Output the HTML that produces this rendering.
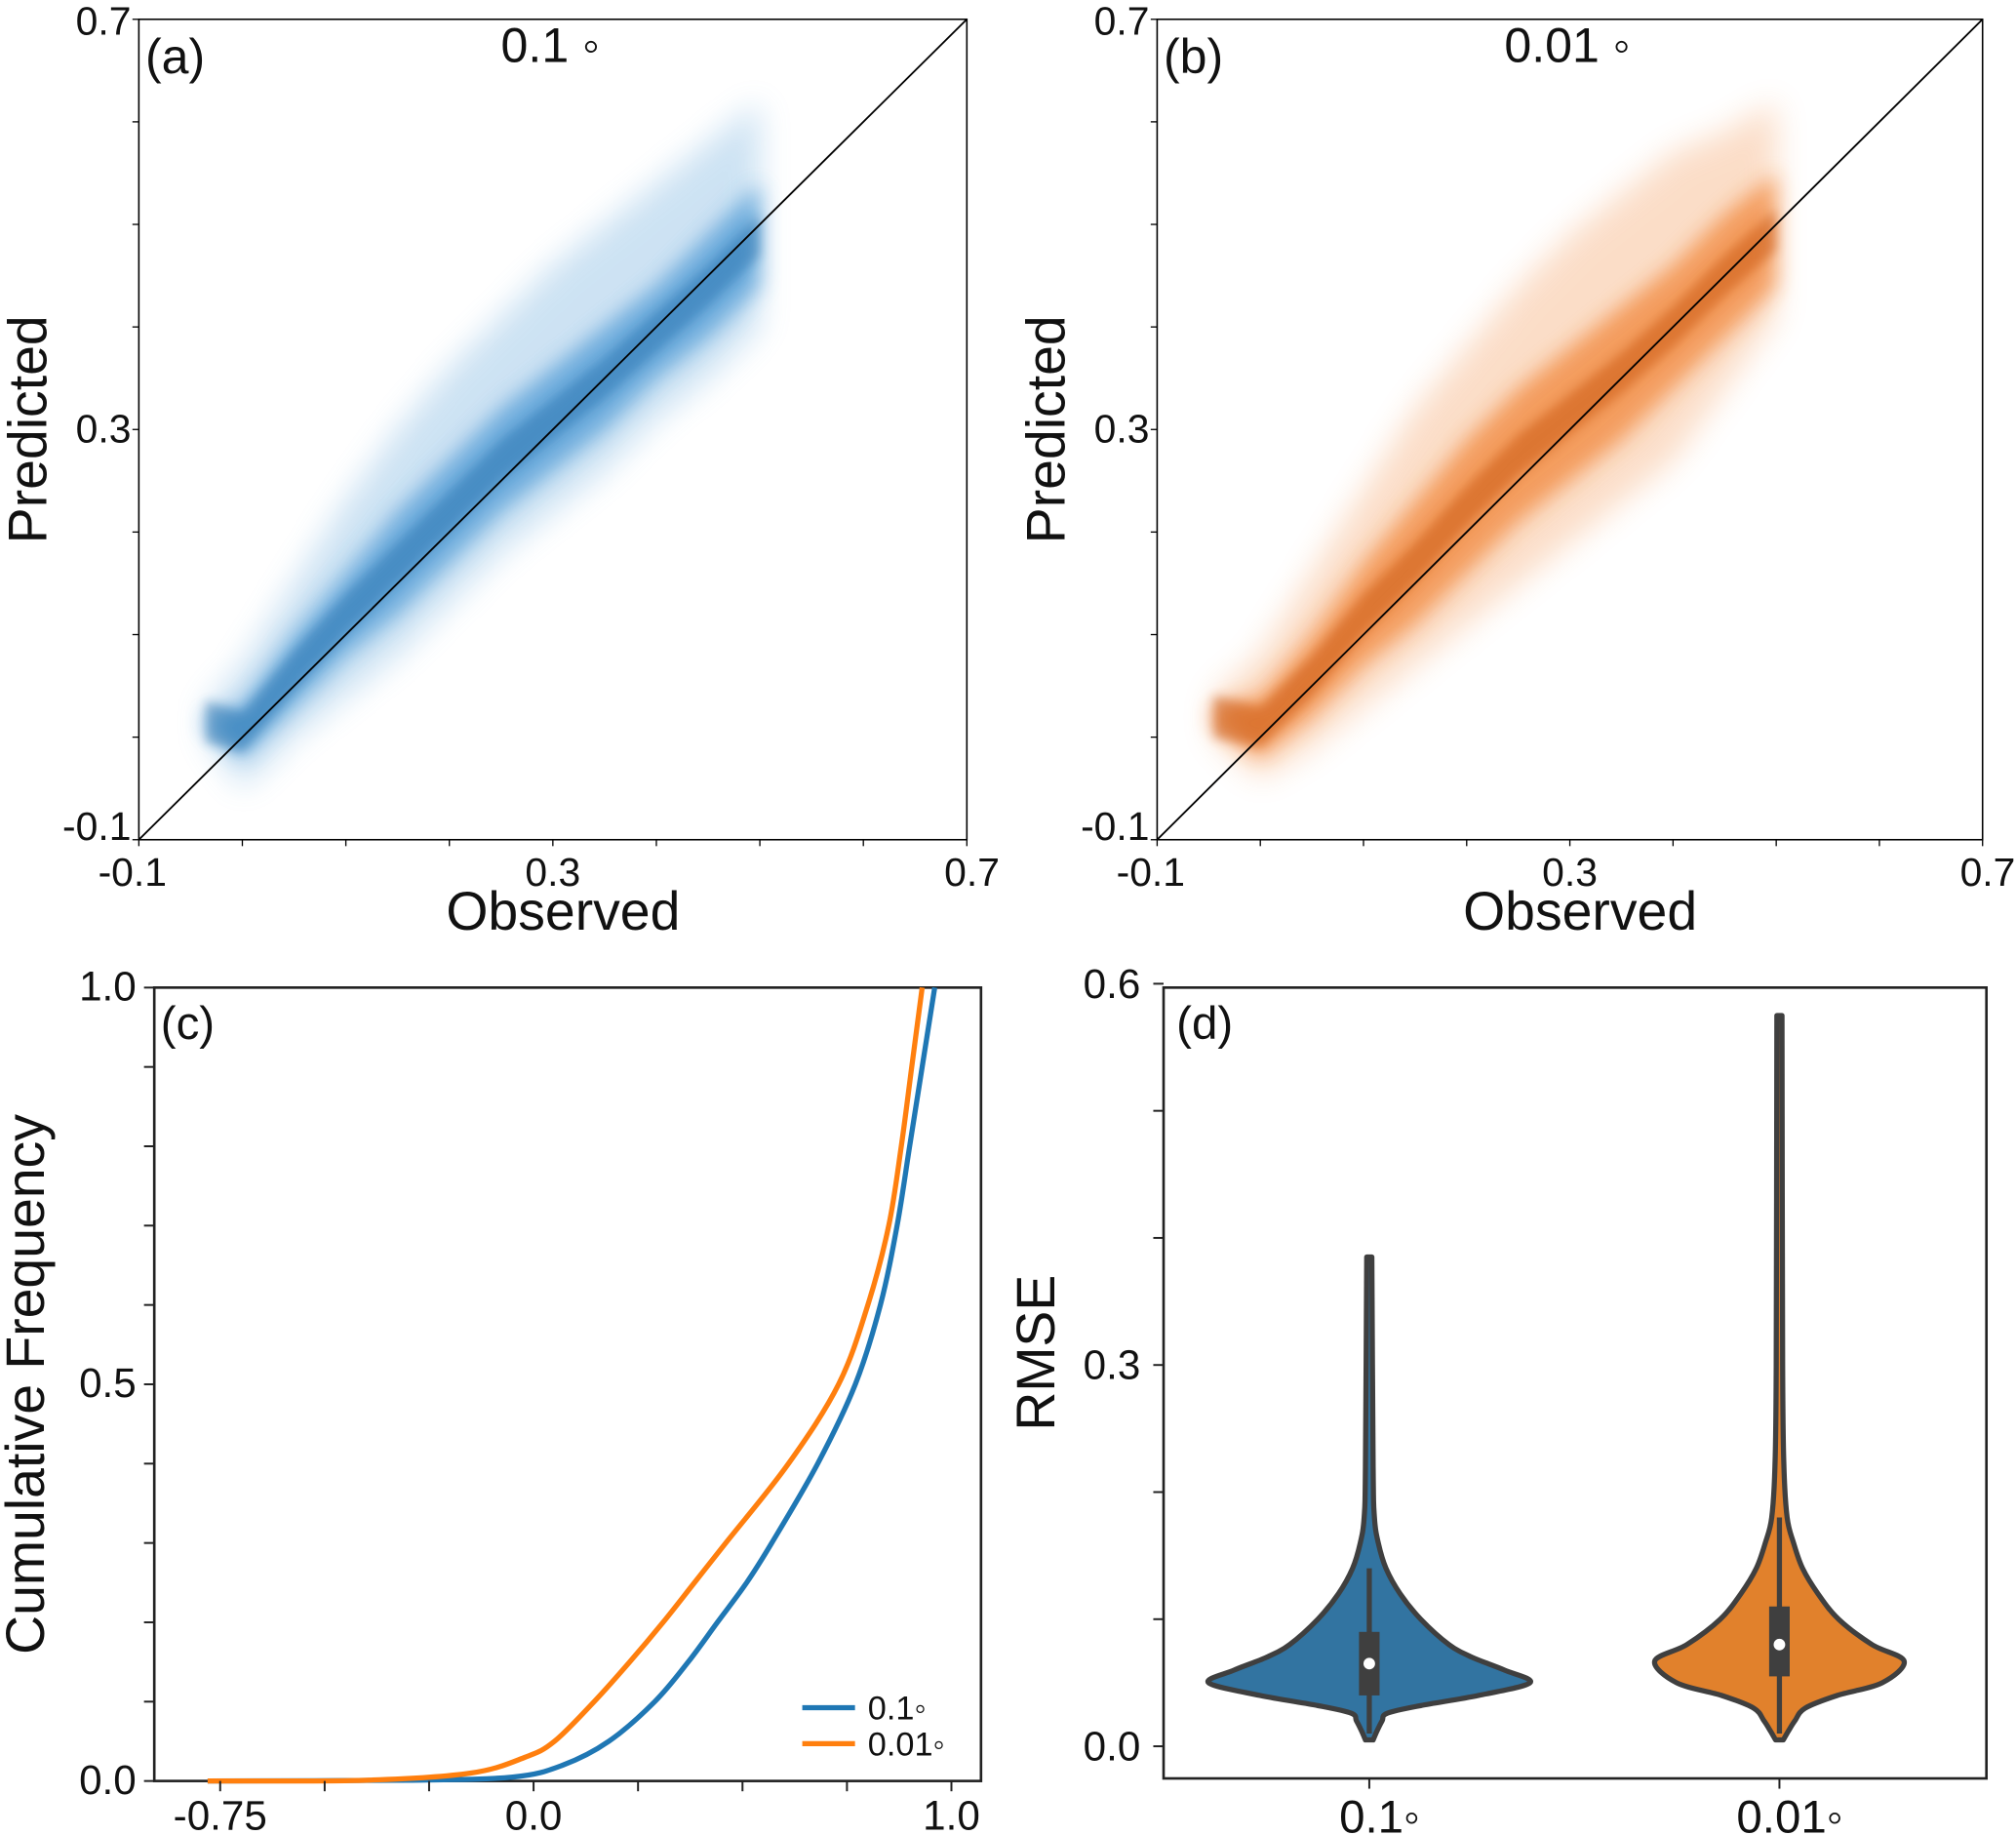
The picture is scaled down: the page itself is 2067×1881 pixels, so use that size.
<!DOCTYPE html>
<html><head><meta charset="utf-8"><style>
html,body{margin:0;padding:0;background:#fff}
svg{display:block}
text{font-family:"Liberation Sans","DejaVu Sans",sans-serif;fill:#111}
</style></head><body>
<svg id="fig" width="2067" height="1881" viewBox="0 0 1568 1427" preserveAspectRatio="none" xmlns="http://www.w3.org/2000/svg">
<defs>
<filter id="blur12" x="-20%" y="-20%" width="140%" height="140%"><feGaussianBlur stdDeviation="12"/></filter>
<filter id="blur8" x="-20%" y="-20%" width="140%" height="140%"><feGaussianBlur stdDeviation="8"/></filter>
<filter id="blur4" x="-20%" y="-20%" width="140%" height="140%"><feGaussianBlur stdDeviation="4"/></filter>
<clipPath id="clipA"><rect x="108" y="15" width="644" height="638"/></clipPath>
<clipPath id="clipB"><rect x="900" y="15" width="642" height="638"/></clipPath>
</defs>
<g id="root"></g>
</svg>
<script>
// ---- scatter band data (observed vs predicted quantiles) ----
const obsA = [-0.035, 0.0, 0.05, 0.1, 0.15, 0.2, 0.25, 0.3, 0.35, 0.4, 0.45, 0.5];
const loA  = [0.0, -0.05, 0.0, 0.04, 0.08, 0.13, 0.18, 0.22, 0.26, 0.31, 0.35, 0.40];
const hiA  = [0.03, 0.07, 0.15, 0.23, 0.30, 0.36, 0.41, 0.46, 0.50, 0.54, 0.58, 0.62];
const coreLoA = [0.01, -0.02, 0.03, 0.08, 0.12, 0.17, 0.22, 0.26, 0.30, 0.35, 0.39, 0.44];
const coreHiA = [0.02, 0.03, 0.10, 0.16, 0.22, 0.27, 0.32, 0.36, 0.40, 0.44, 0.49, 0.54];
const obsB = [-0.045, 0.0, 0.05, 0.1, 0.15, 0.2, 0.25, 0.3, 0.35, 0.4, 0.45, 0.5];
const loB  = [0.0, -0.04, -0.01, 0.03, 0.07, 0.11, 0.15, 0.19, 0.23, 0.27, 0.34, 0.41];
const hiB  = [0.04, 0.08, 0.16, 0.24, 0.32, 0.38, 0.44, 0.49, 0.53, 0.57, 0.59, 0.62];
const coreLoB = [0.01, -0.02, 0.02, 0.07, 0.11, 0.16, 0.21, 0.25, 0.29, 0.34, 0.39, 0.44];
const coreHiB = [0.03, 0.04, 0.10, 0.17, 0.23, 0.29, 0.34, 0.38, 0.42, 0.46, 0.51, 0.55];
const scatterTicks = [-0.1, 0.3, 0.7];
// ---- CDF data ----
const cdfFreqBlue = [0, 0.001, 0.005, 0.02, 0.05, 0.1, 0.15, 0.2, 0.25, 0.3, 0.4, 0.5, 0.6, 0.7, 0.8, 0.9, 1.0];
const cdfBlue     = [-0.78, -0.3, -0.05, 0.07, 0.18, 0.29, 0.37, 0.44, 0.51, 0.57, 0.68, 0.77, 0.83, 0.87, 0.9, 0.93, 0.96];
const cdfFreqOrange = [0, 0.001, 0.01, 0.03, 0.05, 0.1, 0.15, 0.2, 0.25, 0.3, 0.4, 0.5, 0.6, 0.7, 0.8, 0.9, 1.0];
const cdfOrange     = [-0.78, -0.4, -0.15, -0.02, 0.05, 0.145, 0.23, 0.31, 0.385, 0.46, 0.61, 0.73, 0.80, 0.85, 0.88, 0.905, 0.93];
const cdfXTicks = [-0.75, 0.0, 1.0];
const cdfYTicks = [0.0, 0.5, 1.0];
// ---- violin data ----
const violinCats = ['0.1◦', '0.01◦'];
const vYBlue = [0.005, 0.012, 0.02, 0.026, 0.032, 0.04, 0.05, 0.06, 0.07, 0.08, 0.1, 0.12, 0.14, 0.16, 0.18, 0.22, 0.385];
const vWBlue = [3, 6, 10, 14, 40, 85, 125, 105, 80, 62, 40, 24, 13, 7, 4, 3, 2];
const vYOrange = [0.005, 0.012, 0.02, 0.03, 0.04, 0.05, 0.067, 0.08, 0.1, 0.12, 0.14, 0.16, 0.18, 0.22, 0.3, 0.575];
const vWOrange = [3, 7, 12, 20, 45, 80, 97, 72, 46, 30, 18, 11, 6, 3.5, 2.5, 2];
const boxBlue = [0.01, 0.04, 0.065, 0.09, 0.14];
const boxOrange = [0.01, 0.055, 0.08, 0.11, 0.18];
const violinYTicks = [0.0, 0.3, 0.6];

const NS = 'http://www.w3.org/2000/svg';
const root = document.getElementById('root');
function mk(tag, attrs, parent, txt){
  const e = document.createElementNS(NS, tag);
  for (const k in attrs) e.setAttribute(k, attrs[k]);
  if (txt !== undefined) e.textContent = txt;
  (parent || root).appendChild(e);
  return e;
}
function band(xs, lo, hi, sx, sy){
  let d = '';
  xs.forEach((x,i)=>{ d += (i?'L':'M') + sx(x) + ' ' + sy(hi[i]) + ' '; });
  for (let i = xs.length-1; i>=0; i--) d += 'L' + sx(xs[i]) + ' ' + sy(lo[i]) + ' ';
  return d + 'Z';
}
function smoothPath(pts){
  let d = 'M' + pts[0][0] + ' ' + pts[0][1];
  for (let i=0;i<pts.length-1;i++){
    const p0 = pts[Math.max(0,i-1)], p1 = pts[i], p2 = pts[i+1], p3 = pts[Math.min(pts.length-1,i+2)];
    const c1x = p1[0] + (p2[0]-p0[0])/6, c1y = p1[1] + (p2[1]-p0[1])/6;
    const c2x = p2[0] - (p3[0]-p1[0])/6, c2y = p2[1] - (p3[1]-p1[1])/6;
    d += ' C' + c1x + ' ' + c1y + ' ' + c2x + ' ' + c2y + ' ' + p2[0] + ' ' + p2[1];
  }
  return d;
}

function scatterPanel(o){
  const {L,R,T,B,xs,lo,hi,clo,chi,col,dark,label,title,clip,id} = o;
  const sx = v => L + (v+0.1)/0.8*(R-L);
  const sy = v => B - (v+0.1)/0.8*(B-T);
  const g = mk('g', {'clip-path':'url(#'+clip+')'});
  
  
  const outer = mk('path', {d: band(xs, lo, hi, sx, sy), fill: col, opacity: 0.25, filter: 'url(#blur12)'}, g);
  
  
  const core = mk('path', {d: band(xs, clo, chi, sx, sy), fill: col, opacity: 0.65, filter: 'url(#blur8)'}, g);
  
  
  const c2 = mk('path', {d: band(xs, clo.map((v,i)=>(v+chi[i])/2-0.02), chi.map((v,i)=>(v+clo[i])/2+0.02), sx, sy), fill: dark, opacity: 0.45, filter: 'url(#blur4)'}, g);
  
  
  const diag = mk('line', {x1: sx(-0.1), y1: sy(-0.1), x2: sx(0.7), y2: sy(0.7), stroke:'#000', 'stroke-width':1.4});
  
  
  const frame = mk('rect', {x:L, y:T, width:R-L, height:B-T, fill:'none', stroke:'#000', 'stroke-width':1.2});
  
  
  for (let v=-0.1; v<=0.7001; v+=0.1){
    const t1 = mk('line', {x1:sx(v), x2:sx(v), y1:B, y2:B+5, stroke:'#000','stroke-width':1});
    
    
    const t2 = mk('line', {x1:L-5, x2:L, y1:sy(v), y2:sy(v), stroke:'#000','stroke-width':1});
    
    
  }
  scatterTicks.forEach(v=>{
    const lx = v===0.7 ? R+4 : (v===-0.1 ? L-5 : sx(v));
    const a = mk('text', {x: lx, y: B+36, 'font-size':31, 'text-anchor':'middle'}, null, v.toFixed(1));
    
    
    const ly = v===0.7 ? T+12 : (v===-0.1 ? B : sy(v)+10);
    const b = mk('text', {x: L-6, y: ly, 'font-size':31, 'text-anchor':'end'}, null, v.toFixed(1));
    
    
  });
  const xt = mk('text', {x:(L+R)/2+8, y:B+70, 'font-size':42, 'text-anchor':'middle'}, null, 'Observed');
  
  
  const yt = mk('text', {x:0, y:0, 'font-size':42, 'text-anchor':'middle', transform:'translate('+(L-72)+','+((T+B)/2)+') rotate(-90)'}, null, 'Predicted');
  
  
  const pl = mk('text', {x:L+5, y:T+42, 'font-size':38}, null, label);
  
  
  const ti = mk('text', {x:(L+R)/2-2, y:T+33, 'font-size':38, 'text-anchor':'middle'}, null, title);
  
  
}
scatterPanel({L:108,R:752,T:15,B:653,xs:obsA,lo:loA,hi:hiA,clo:coreLoA,chi:coreHiA,col:'#3a8fd0',dark:'#1c6aa8',label:'(a)',title:'0.1 ◦',clip:'clipA',id:'panel-a'});
scatterPanel({L:900,R:1542,T:15,B:653,xs:obsB,lo:loB,hi:hiB,clo:coreLoB,chi:coreHiB,col:'#f07a25',dark:'#c24a05',label:'(b)',title:'0.01 ◦',clip:'clipB',id:'panel-b'});

// ---- panel c: CDF ----
(function(){
  const L=120,R=763,T=768,B=1385;
  const sx = v => 415 + v*325;
  const sy = v => B - v*(B-T);
  const frame = mk('rect', {x:L,y:T,width:R-L,height:B-T,fill:'none',stroke:'#222','stroke-width':2});
  
  
  [[cdfBlue,cdfFreqBlue,'#1f77b4','cdf-line-0.1'],[cdfOrange,cdfFreqOrange,'#ff7f0e','cdf-line-0.01']].forEach(([xs,fs,c,n])=>{
    const pts = xs.map((x,i)=>[sx(x), sy(fs[i])]);
    const p = mk('path',{d:smoothPath(pts),fill:'none',stroke:c,'stroke-width':4,'stroke-linejoin':'round'});
    
    
  });
  for (let v=-0.75; v<=1.0001; v+=0.25){
    const t = mk('line',{x1:sx(v),x2:sx(v),y1:B,y2:B+8,stroke:'#222','stroke-width':1.5});
    
    
  }
  for (let v=0; v<=1.0001; v+=0.1){
    const t = mk('line',{x1:L-8,x2:L,y1:sy(v),y2:sy(v),stroke:'#222','stroke-width':1.5});
    
    
  }
  cdfXTicks.forEach(v=>{
    const t = mk('text',{x:sx(v),y:B+38,'font-size':32,'text-anchor':'middle'},null,v.toFixed(v===-0.75?2:1));
    
    
  });
  cdfYTicks.forEach(v=>{
    const t = mk('text',{x:L-14,y:sy(v)+10,'font-size':32,'text-anchor':'end'},null,v.toFixed(1));
    
    
  });
  const yt = mk('text',{x:0,y:0,'font-size':42,'text-anchor':'middle',transform:'translate(34,'+((T+B)/2)+') rotate(-90)'},null,'Cumulative Frequency');
  
  
  const pl = mk('text',{x:L+5,y:T+40,'font-size':36},null,'(c)');
  
  
  [['#1f77b4','0.1◦',1328],['#ff7f0e','0.01◦',1356]].forEach(([c,t,y],i)=>{
    const l = mk('line',{x1:624,x2:665,y1:y,y2:y,stroke:c,'stroke-width':4});
    
    
    const tx = mk('text',{x:675,y:y+9,'font-size':26},null,t);
    
    
  });
})();

// ---- panel d: violins ----
(function(){
  const L=905,R=1545,T=768,B=1383;
  const sy = v => 1358 - v*(1358-765)/0.6;
  const cx = [1065, 1384];
  const frame = mk('rect',{x:L,y:T,width:R-L,height:B-T,fill:'none',stroke:'#222','stroke-width':2});
  
  
  [[vYBlue,vWBlue,boxBlue,'#3274a1'],[vYOrange,vWOrange,boxOrange,'#e1812c']].forEach(([ys,ws,bx,c],k)=>{
    const x0 = cx[k];
    const right = ys.map((y,i)=>[x0+ws[i], sy(y)]);
    const left = ys.map((y,i)=>[x0-ws[i], sy(y)]).reverse();
    const d = smoothPath(right) + ' L' + left[0][0] + ' ' + left[0][1] + smoothPath(left).slice(smoothPath(left).indexOf('C')-1) + ' Z';
    const p = mk('path',{d:d,fill:c,stroke:'#3f3f3f','stroke-width':4,'stroke-linejoin':'round'});
    
    
    const w = mk('line',{x1:x0,x2:x0,y1:sy(bx[0]),y2:sy(bx[4]),stroke:'#3f3f3f','stroke-width':4});
    
    
    const b = mk('rect',{x:x0-8,y:sy(bx[3]),width:16,height:sy(bx[1])-sy(bx[3]),fill:'#3f3f3f'});
    
    
    const m = mk('circle',{cx:x0,cy:sy(bx[2]),r:4.5,fill:'#fff'});
    
    
    const t = mk('line',{x1:x0,x2:x0,y1:B,y2:B+8,stroke:'#222','stroke-width':1.5});
    
    
    const tl = mk('text',{x:x0+8,y:B+42,'font-size':36,'text-anchor':'middle'},null,violinCats[k]);
    
    
  });
  for (let v=0; v<=0.6001; v+=0.1){
    const t = mk('line',{x1:L-8,x2:L,y1:sy(v),y2:sy(v),stroke:'#222','stroke-width':1.5});
    
    
  }
  violinYTicks.forEach(v=>{
    const t = mk('text',{x:L-18,y:sy(v)+11,'font-size':32,'text-anchor':'end'},null,v.toFixed(1));
    
    
  });
  const yt = mk('text',{x:0,y:0,'font-size':42,'text-anchor':'middle',transform:'translate(820,1052) rotate(-90)'},null,'RMSE');
  
  
  const pl = mk('text',{x:L+10,y:T+40,'font-size':36},null,'(d)');
  
  
})();
</script>
</body></html>
